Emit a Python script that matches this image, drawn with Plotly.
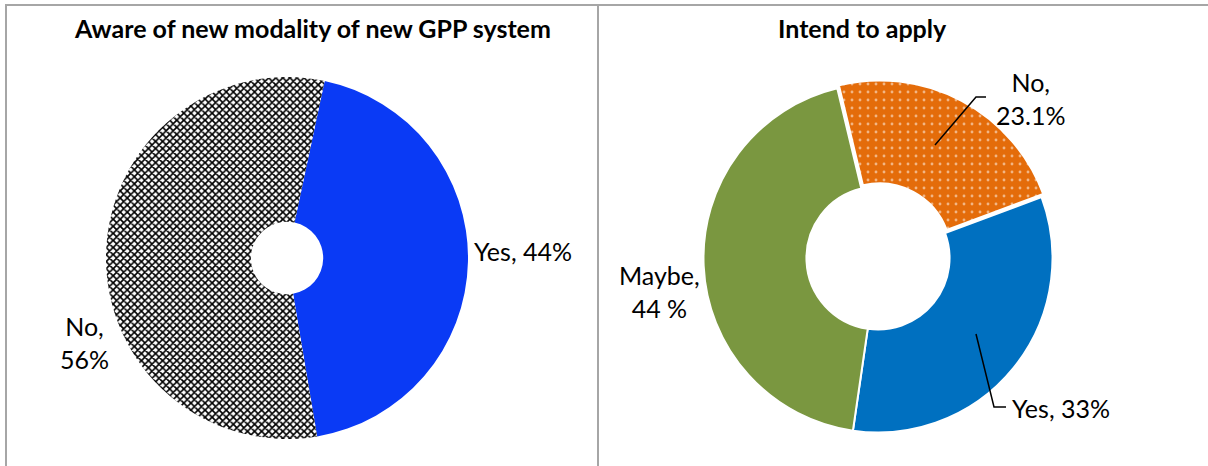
import plotly.graph_objects as go

W, H = 1208, 466

# ---- data ----
aware_labels = ["Yes", "No"]
aware_values = [44, 56]
aware_texts = ["Yes, 44%", "No,<br>56%"]

intend_labels = ["No", "Yes", "Maybe"]
intend_values = [23.1, 33, 44]
intend_texts = ["No,<br>23.1%", "Yes, 33%", "Maybe,<br>44 %"]

titles = ["Aware of new modality of new GPP system", "Intend to apply"]

FONT = "Lato"

def px(x):
    return x / W

def py(y):
    return 1 - y / H

fig = go.Figure()

fig.add_trace(go.Pie(
    labels=aware_labels, values=aware_values, sort=False,
    direction="clockwise", rotation=12, hole=0.2,
    textinfo="none", hoverinfo="label+percent", showlegend=False,
    marker=dict(
        colors=["#0A3AF5", "#FFFFFF"],
        line=dict(color="rgba(0,0,0,0)", width=0),
        pattern=dict(shape=["", "x"], fgcolor="#000000", bgcolor="#FFFFFF",
                     size=5, solidity=0.55, fillmode="replace"),
    ),
    domain=dict(x=[px(106), px(468)], y=[py(439), py(77)]),
))

fig.add_trace(go.Pie(
    labels=intend_labels, values=intend_values, sort=False,
    direction="clockwise", rotation=-13.5, hole=0.41,
    pull=[0.02, 0, 0],
    textinfo="none", hoverinfo="label+percent", showlegend=False,
    marker=dict(
        colors=["#E46C0A", "#0070C0", "#7A9740"],
        line=dict(color="#FFFFFF", width=2),
        pattern=dict(shape=[".", "", ""], fgcolor="#FFFFFF",
                     size=8, solidity=0.1, fillmode="overlay"),
    ),
    domain=dict(x=[px(700), px(1056)], y=[py(437), py(79)]),
))

ann = []
title_font = dict(family=FONT, size=25, color="#000000")
ann.append(dict(x=px(312), y=py(28), xref="paper", yref="paper", text="<b>" + titles[0] + "</b>",
                showarrow=False, font=title_font, xanchor="center", yanchor="middle"))
ann.append(dict(x=px(862), y=py(28), xref="paper", yref="paper", text="<b>" + titles[1] + "</b>",
                showarrow=False, font=title_font, xanchor="center", yanchor="middle"))
label_font = dict(family=FONT, size=25, color="#000000")
ann.append(dict(x=px(472), y=py(251), xref="paper", yref="paper", text=aware_texts[0],
                showarrow=False, font=label_font, xanchor="left", yanchor="middle"))
ann.append(dict(x=px(84), y=py(342), xref="paper", yref="paper", text=aware_texts[1],
                showarrow=False, font=label_font, xanchor="center", yanchor="middle", align="center"))
ann.append(dict(x=px(1030), y=py(98), xref="paper", yref="paper", text=intend_texts[0],
                showarrow=False, font=label_font, xanchor="center", yanchor="middle", align="center"))
ann.append(dict(x=px(1010), y=py(408), xref="paper", yref="paper", text=intend_texts[1],
                showarrow=False, font=label_font, xanchor="left", yanchor="middle"))
ann.append(dict(x=px(659), y=py(291), xref="paper", yref="paper", text=intend_texts[2],
                showarrow=False, font=label_font, xanchor="center", yanchor="middle", align="center"))

shapes = []
border = dict(color="#A6A6A6", width=2)
shapes.append(dict(type="path", xref="paper", yref="paper",
                   path=f"M {px(6)},{py(470)} L {px(6)},{py(5)} L {px(598)},{py(5)} L {px(598)},{py(470)}",
                   line=border))
shapes.append(dict(type="line", xref="paper", yref="paper",
                   x0=px(598), y0=py(5), x1=px(1210), y1=py(5), line=border))
lead = dict(color="#000000", width=1.5)
shapes.append(dict(type="path", xref="paper", yref="paper",
                   path=f"M {px(935)},{py(145)} L {px(976)},{py(97)} L {px(986)},{py(97)}",
                   line=lead))
shapes.append(dict(type="path", xref="paper", yref="paper",
                   path=f"M {px(976)},{py(334)} L {px(994)},{py(407)} L {px(1006)},{py(407)}",
                   line=lead))

fig.update_layout(
    width=W, height=H,
    margin=dict(l=0, r=0, t=0, b=0),
    paper_bgcolor="#FFFFFF", plot_bgcolor="#FFFFFF",
    annotations=ann, shapes=shapes,
    font=dict(family=FONT),
)

fig.write_html("out.html")
